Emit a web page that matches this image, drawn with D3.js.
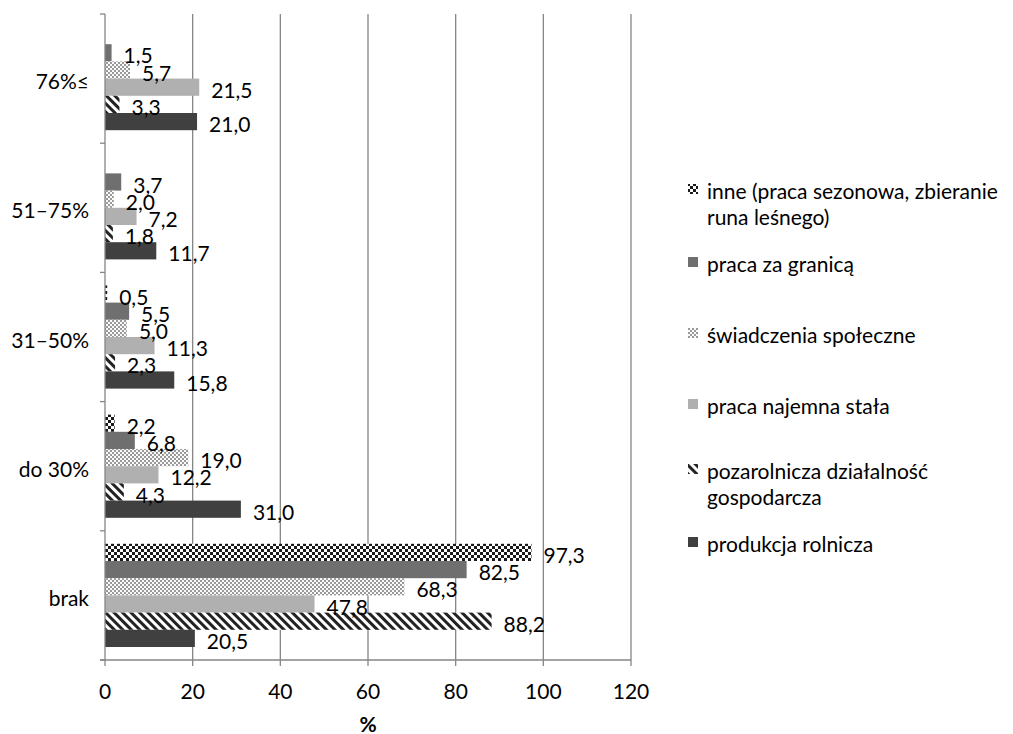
<!DOCTYPE html>
<html><head><meta charset="utf-8">
<script src="https://cdn.jsdelivr.net/npm/d3@7"></script>
<style>body{margin:0;background:#fff}svg{display:block}text{font-family:Lato,"Open Sans",sans-serif;fill:#000}</style>
</head><body><div id="chart"></div>
<script>
const categories = ["76%≤", "51–75%", "31–50%", "do 30%", "brak"];
const seriesNames = ["inne (praca sezonowa, zbieranie runa leśnego)", "praca za granicą", "świadczenia społeczne", "praca najemna stała", "pozarolnicza działalność gospodarcza", "produkcja rolnicza"];
const legendLines = [["inne (praca sezonowa, zbieranie", "runa leśnego)"], ["praca za granicą"], ["świadczenia społeczne"], ["praca najemna stała"], ["pozarolnicza działalność", "gospodarcza"], ["produkcja rolnicza"]];
// values per series, in category order above
const inne = [null, null, 0.5, 2.2, 97.3];
const granica = [1.5, 3.7, 5.5, 6.8, 82.5];
const swiadczenia = [5.7, 2.0, 5.0, 19.0, 68.3];
const najemna = [21.5, 7.2, 11.3, 12.2, 47.8];
const pozarolnicza = [3.3, 1.8, 2.3, 4.3, 88.2];
const produkcja = [21.0, 11.7, 15.8, 31.0, 20.5];
const seriesValues = [inne, granica, swiadczenia, najemna, pozarolnicza, produkcja];
const xTicks = [0, 20, 40, 60, 80, 100, 120];

(function(){
const W = 1013, H = 734, FS = 21;
const svg = d3.select("#chart").append("svg").attr("width", W).attr("height", H);
const defs = svg.append("defs");
let p = defs.append("pattern").attr("id", "pChecker").attr("patternUnits", "userSpaceOnUse").attr("width", 6).attr("height", 6);
p.append("rect").attr("width", 6).attr("height", 6).attr("fill", "#fff");
p.append("rect").attr("width", 3).attr("height", 3).attr("fill", "#1a1a1a");
p.append("rect").attr("x", 3).attr("y", 3).attr("width", 3).attr("height", 3).attr("fill", "#1a1a1a");
p = defs.append("pattern").attr("id", "pDots").attr("patternUnits", "userSpaceOnUse").attr("width", 4).attr("height", 4);
p.append("rect").attr("width", 4).attr("height", 4).attr("fill", "#fafafa");
p.append("rect").attr("width", 2).attr("height", 2).attr("fill", "#9a9a9a");
p.append("rect").attr("x", 2).attr("y", 2).attr("width", 2).attr("height", 2).attr("fill", "#9a9a9a");
p = defs.append("pattern").attr("id", "pDiag").attr("patternUnits", "userSpaceOnUse").attr("width", 6).attr("height", 6).attr("patternTransform", "rotate(-45)");
p.append("rect").attr("width", 6).attr("height", 6).attr("fill", "#fff");
p.append("rect").attr("width", 3).attr("height", 6).attr("fill", "#222");
const fills = ["url(#pChecker)", "#6f6f6f", "url(#pDots)", "#b0b0b0", "url(#pDiag)", "#404040"];

const mL = 105, mR = 631, mT = 14, mB = 660;
const x = d3.scaleLinear().domain([0, 120]).range([mL, mR]);
const y = d3.scaleBand().domain(categories).range([mT, mB]);
const padIn = 13;
const yInner = d3.scaleBand().domain(d3.range(seriesNames.length)).range([padIn, y.bandwidth() - padIn]);

svg.append("g").selectAll("line").data(xTicks.filter(d => d > 0)).join("line")
  .attr("x1", d => x(d)).attr("x2", d => x(d)).attr("y1", mT).attr("y2", mB)
  .attr("stroke", "#868686").attr("stroke-width", 1.3);

const g = svg.append("g");
seriesValues.forEach((vals, si) => {
  categories.forEach((c, ci) => {
    const v = vals[ci];
    if (v == null) return;
    const y0 = y(c) + yInner(si);
    g.append("rect").attr("x", x(0)).attr("y", y0).attr("width", x(v) - x(0)).attr("height", yInner.bandwidth()).attr("fill", fills[si]);
  });
});
seriesValues.forEach((vals, si) => {
  categories.forEach((c, ci) => {
    const v = vals[ci];
    if (v == null) return;
    const yc = y(c) + yInner(si) + yInner.bandwidth() / 2;
    g.append("text").attr("x", x(v) + 12).attr("y", yc + 2).attr("dominant-baseline", "central")
      .attr("font-size", FS).text(d3.format(".1f")(v).replace(".", ","));
  });
});

const axG = svg.append("g");
axG.append("line").attr("x1", mL).attr("x2", mL).attr("y1", mT).attr("y2", mB).attr("stroke", "#868686").attr("stroke-width", 1.3);
axG.append("line").attr("x1", mL - 5).attr("x2", mR).attr("y1", mB).attr("y2", mB).attr("stroke", "#868686").attr("stroke-width", 1.3);
const yTickPos = categories.map(c => y(c)).concat([mB]);
axG.selectAll(".yt").data(yTickPos).join("line").attr("x1", mL - 5).attr("x2", mL).attr("y1", d => d).attr("y2", d => d).attr("stroke", "#868686").attr("stroke-width", 1.3);
axG.selectAll(".xt").data(xTicks).join("line").attr("x1", d => x(d)).attr("x2", d => x(d)).attr("y1", mB).attr("y2", mB + 6).attr("stroke", "#868686").attr("stroke-width", 1.3);
axG.selectAll(".xl").data(xTicks).join("text").attr("x", d => x(d)).attr("y", 690).attr("text-anchor", "middle").attr("dominant-baseline", "central").attr("font-size", FS).text(d => d);
axG.selectAll(".cl").data(categories).join("text").attr("x", 89).attr("y", d => y(d) + y.bandwidth() / 2 + 2).attr("text-anchor", "end").attr("dominant-baseline", "central").attr("font-size", FS).text(d => d);
svg.append("text").attr("x", (mL + mR) / 2).attr("y", 723).attr("text-anchor", "middle").attr("dominant-baseline", "central").attr("font-size", FS).attr("font-weight", "bold").text("%");

const legendY = [189, 262, 333, 404, 469, 542];
const lg = svg.append("g");
legendLines.forEach((lines, i) => {
  const ly = legendY[i];
  lg.append("rect").attr("x", 688).attr("y", ly - 5).attr("width", 10).attr("height", 10).attr("fill", fills[i]);
  lines.forEach((t, j) => {
    lg.append("text").attr("x", 707).attr("y", ly + j * 26 + 1).attr("dominant-baseline", "central").attr("font-size", FS).text(t);
  });
});
})();
</script></body></html>
